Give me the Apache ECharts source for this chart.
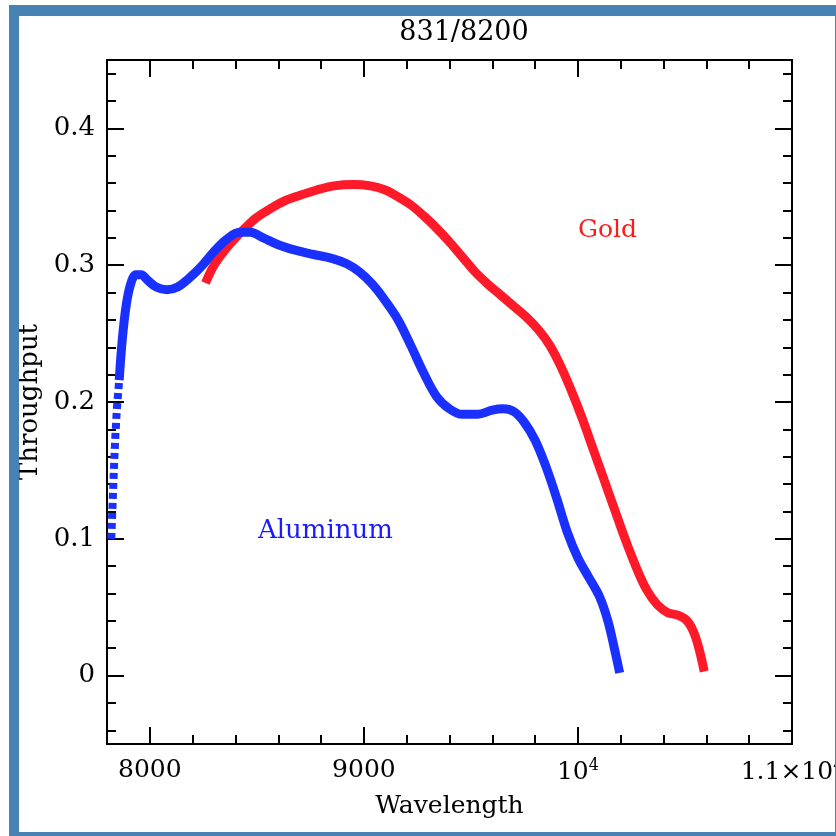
<!DOCTYPE html>
<html>
<head>
<meta charset="utf-8">
<script src="https://cdn.jsdelivr.net/npm/echarts@6/dist/echarts.min.js"></script>
<style>html,body{margin:0;padding:0;background:#fff;overflow:hidden;}#c{width:836px;height:836px;}</style>
</head>
<body>
<div id="c"></div>
<script>
// ---- data ----
const titleText = '831/8200';
const xName = 'Wavelength';
const yName = 'Throughput';
const xMajorTicks = [8000, 9000, 10000, 11000];
const xMinorTicks = [8200, 8400, 8600, 8800, 9200, 9400, 9600, 9800, 10200, 10400, 10600, 10800];
const yMajorTicks = [0, 0.1, 0.2, 0.3, 0.4];
const yMinorTicks = [-0.04, -0.02, 0.02, 0.04, 0.06, 0.08, 0.12, 0.14, 0.16, 0.18, 0.22, 0.24, 0.26, 0.28, 0.32, 0.34, 0.36, 0.38, 0.42, 0.44];
const aluminumSteep = [
  [7820, 0.100], [7826, 0.125], [7832, 0.150], [7838, 0.172], [7846, 0.195], [7857, 0.216]
];
const aluminum = [
  [7857, 0.216], [7871, 0.245], [7889, 0.270], [7910, 0.286], [7935, 0.293], [7960, 0.293],
  [7990, 0.289], [8030, 0.284], [8080, 0.282], [8130, 0.284], [8180, 0.290], [8240, 0.299],
  [8300, 0.310], [8360, 0.319], [8420, 0.324], [8470, 0.324], [8530, 0.320], [8600, 0.315],
  [8680, 0.311], [8760, 0.308], [8850, 0.305], [8920, 0.301], [8980, 0.295], [9040, 0.286],
  [9100, 0.274], [9160, 0.260], [9220, 0.241], [9280, 0.221], [9340, 0.204], [9400, 0.195],
  [9460, 0.191], [9530, 0.191], [9600, 0.194], [9650, 0.195], [9700, 0.193], [9750, 0.185],
  [9800, 0.172], [9850, 0.153], [9900, 0.130], [9950, 0.105], [10000, 0.086], [10050, 0.072],
  [10100, 0.058], [10140, 0.040], [10170, 0.020], [10195, 0.002]
];
const gold = [
  [8260, 0.287], [8300, 0.300], [8350, 0.311], [8400, 0.320], [8450, 0.328], [8500, 0.335],
  [8560, 0.341], [8630, 0.347], [8700, 0.351], [8780, 0.355], [8860, 0.358], [8950, 0.359],
  [9030, 0.358], [9100, 0.355], [9160, 0.350], [9220, 0.344], [9280, 0.336], [9340, 0.327],
  [9400, 0.317], [9460, 0.306], [9520, 0.295], [9580, 0.286], [9640, 0.278], [9700, 0.270],
  [9760, 0.262], [9820, 0.252], [9870, 0.241], [9920, 0.226], [9970, 0.208], [10020, 0.188],
  [10070, 0.166], [10120, 0.144], [10170, 0.122], [10220, 0.100], [10270, 0.080], [10320, 0.063],
  [10370, 0.052], [10420, 0.046], [10470, 0.044], [10510, 0.040], [10540, 0.032], [10565, 0.020],
  [10590, 0.003]
];
const seriesNames = ['Aluminum', 'Gold'];

// ---- chart ----
const FONT = 'DejaVu Serif';
const BLUE = '#1a30ff';
const RED = '#ff1a2a';
const FRAME = '#4682b4';
const X_MIN = 7800, X_MAX = 11000, Y_MIN = -0.05, Y_MAX = 0.45;

function xFmt(v) {
  if (v === 10000) return '{b|10}{s|4}';
  if (v === 11000) return '{b|1.1×10}{s|4}';
  return '{b|' + v + '}';
}
const rich = {
  b: { fontFamily: FONT, fontSize: 25, color: '#000' },
  s: { fontFamily: FONT, fontSize: 16, color: '#000', padding: [0, 0, 12, 0] }
};

function axis(kind, position, ticks, len, withLabel, withLine, extra) {
  const a = {
    type: 'value', position: position,
    min: kind === 'x' ? X_MIN : Y_MIN, max: kind === 'x' ? X_MAX : Y_MAX,
    splitLine: { show: false },
    axisLine: { show: withLine, onZero: false, lineStyle: { color: '#000', width: 2 } },
    axisTick: { show: true, inside: true, length: len, customValues: ticks, lineStyle: { color: '#000', width: 2 } },
    axisLabel: { show: withLabel }
  };
  if (withLabel) a.axisLabel.customValues = ticks;
  return Object.assign(a, extra || {});
}

const xAxes = [
  axis('x', 'bottom', xMajorTicks, 17, true, true, {
    name: xName, nameLocation: 'middle', nameGap: 50,
    nameTextStyle: { fontFamily: FONT, fontSize: 25, color: '#000' },
    axisLabel: { show: true, customValues: xMajorTicks, margin: 14, formatter: xFmt, rich: rich }
  }),
  axis('x', 'bottom', xMinorTicks, 9, false, false),
  axis('x', 'top', xMajorTicks, 17, false, true),
  axis('x', 'top', xMinorTicks, 9, false, false)
];
const yAxes = [
  axis('y', 'left', yMajorTicks, 17, true, true, {
    name: yName, nameLocation: 'middle', nameGap: 62,
    nameTextStyle: { fontFamily: FONT, fontSize: 26, color: '#000' },
    axisLabel: { show: true, customValues: yMajorTicks, margin: 12, fontFamily: FONT, fontSize: 26, color: '#000',
      formatter: function (v) { return String(Math.round(v * 100) / 100); } }
  }),
  axis('y', 'left', yMinorTicks, 9, false, false),
  axis('y', 'right', yMajorTicks, 17, false, true),
  axis('y', 'right', yMinorTicks, 9, false, false)
];

const chart = echarts.init(document.getElementById('c'), null, { renderer: 'canvas' });
chart.setOption({
  backgroundColor: '#fff',
  animation: false,
  title: {
    text: titleText, left: 459, top: 14, textAlign: 'center',
    textStyle: { fontFamily: FONT, fontSize: 27, fontWeight: 'normal', color: '#000' }
  },
  grid: { left: 107, top: 60, width: 685, height: 684, containLabel: false, outerBoundsMode: 'none' },
  xAxis: xAxes,
  yAxis: yAxes,
  series: [
    { name: seriesNames[0], type: 'line', data: aluminumSteep, showSymbol: false, smooth: false,
      lineStyle: { color: BLUE, width: 8, type: [6, 4], cap: 'butt' }, z: 3 },
    { name: seriesNames[0], type: 'line', data: aluminum, showSymbol: false, smooth: 0.35,
      lineStyle: { color: BLUE, width: 9, join: 'round' }, z: 3 },
    { name: seriesNames[1], type: 'line', data: gold, showSymbol: false, smooth: 0.35,
      lineStyle: { color: RED, width: 9, join: 'round' }, z: 2 }
  ],
  graphic: [
    { type: 'text', left: 258, top: 518, style: { text: seriesNames[0], fill: '#1a1aff', font: '26px "DejaVu Serif"' } },
    { type: 'text', left: 578, top: 218, style: { text: seriesNames[1], fill: '#ff1a1a', font: '25px "DejaVu Serif"' } },
    { type: 'rect', shape: { x: 9, y: 5, width: 827, height: 11 }, style: { fill: FRAME }, z: 100, silent: true },
    { type: 'rect', shape: { x: 9, y: 5, width: 10, height: 831 }, style: { fill: FRAME }, z: 100, silent: true },
    { type: 'rect', shape: { x: 9, y: 832, width: 827, height: 4 }, style: { fill: FRAME }, z: 100, silent: true },
    { type: 'rect', shape: { x: 835, y: 5, width: 1, height: 831 }, style: { fill: FRAME }, z: 100, silent: true }
  ]
});
</script>
</body>
</html>
